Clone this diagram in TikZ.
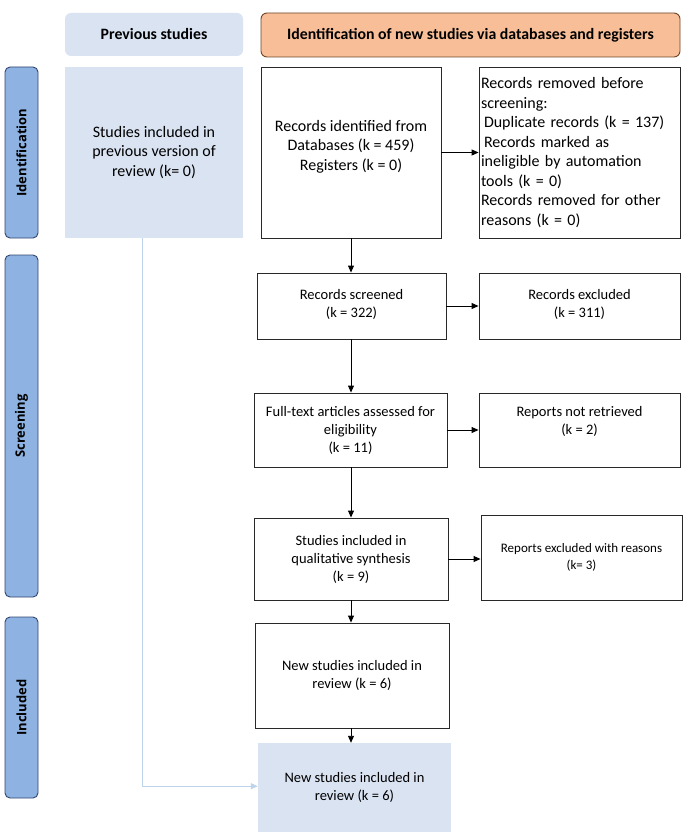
\documentclass[tikz,border=0pt]{standalone}
\usepackage{fontspec}
\setmainfont{Carlito}
\newfontfamily\sidefont{Open Sans}
\usetikzlibrary{arrows.meta,calc}
\definecolor{lblue}{RGB}{218,227,242}
\definecolor{hdorange}{RGB}{247,190,152}
\definecolor{hdborder}{RGB}{110,70,40}
\definecolor{sidefill}{RGB}{142,178,226}
\definecolor{sideborder}{RGB}{50,70,110}
\definecolor{boxline}{RGB}{40,40,40}
\definecolor{bline}{RGB}{190,212,235}
\tikzset{
  box/.style={draw=boxline, line width=0.9pt, fill=white, align=center, inner sep=2pt},
  bluebox/.style={fill=lblue, align=center, inner sep=2pt},
  hdr/.style={rounded corners=6pt, align=center, font={\fontsize{15.8}{19}\selectfont\bfseries}},
  sidelab/.style={draw=sideborder, line width=0.9pt, fill=sidefill, rounded corners=5pt, rotate=90, font={\sidefont\fontsize{13}{15}\selectfont\bfseries}},
  fbig/.style={font={\fontsize{16}{19.5}\selectfont}},
  fmid/.style={font={\fontsize{14.5}{18}\selectfont}},
  fsmall/.style={font={\fontsize{13}{17}\selectfont}},
  arr/.style={-{Triangle[length=7pt,width=6pt]}, line width=0.9pt, draw=black},
  barr/.style={-{Triangle[length=7pt,width=6pt]}, line width=1pt, draw=bline},
}
\begin{document}
\begin{tikzpicture}[x=1pt,y=-1pt]
\useasboundingbox (0,0) rectangle (687,840);
% headers
\node[hdr, fill=lblue, minimum width=178pt, minimum height=43pt] (hprev) at (154,34.5) {Previous studies};
\node[hdr, fill=hdorange, draw=hdborder, line width=0.9pt, minimum width=419pt, minimum height=44pt] (hnew) at (470.5,35) {Identification of new studies via databases and registers};
% side labels
\node[sidelab, minimum width=171pt, minimum height=33pt] (sid) at (21.5,152.5) {Identification};
\node[sidelab, minimum width=342pt, minimum height=33pt] (sscr) at (21.5,426) {Screening};
\node[sidelab, minimum width=181pt, minimum height=33pt] (sinc) at (21.5,707.5) {Included};
% previous studies
\node[bluebox, fbig, minimum width=178pt, minimum height=171pt] (prev) at (154,152.5) {Studies included in\\previous version of\\review (k= 0)};
% identification
\node[box, fbig, minimum width=180pt, minimum height=171pt] (ident) at (351,152.5) {Records identified from\\Databases (k = 459)\\Registers (k = 0)\\[-5pt]\mbox{}};
\node[box, fbig, minimum width=201pt, minimum height=171pt, align=left, text width=197pt] (rem) at (579.5,152.5) {Records removed before\\screening:\\\hspace{3pt}Duplicate records (k = 137)\\\hspace{3pt}Records marked as\\ineligible by automation\\tools (k = 0)\\Records removed for other\\reasons (k = 0)};
% screening
\node[box, fmid, minimum width=189pt, minimum height=66pt] (scr) at (351.5,306) {Records screened\\(k = 322)\\[-12pt]\mbox{}};
\node[box, fmid, minimum width=201pt, minimum height=66pt] (excl) at (579.5,306) {Records excluded\\(k = 311)\\[-12pt]\mbox{}};
\node[box, fmid, minimum width=193pt, minimum height=74pt] (full) at (350.5,430) {Full-text articles assessed for\\eligibility\\(k = 11)};
\node[box, fmid, minimum width=201pt, minimum height=74pt] (notr) at (579.5,430) {Reports not retrieved\\(k = 2)\\[2pt]\mbox{}};
\node[box, fmid, minimum width=194pt, minimum height=82pt] (qual) at (351,559) {Studies included in\\qualitative synthesis\\(k = 9)};
\node[box, fsmall, minimum width=201pt, minimum height=85pt] (rexc) at (581.5,557.5) {Reports excluded with reasons\\(k= 3)};
% included
\node[box, fmid, minimum width=194pt, minimum height=105pt] (new1) at (352,675.5) {New studies included in\\review (k = 6)};
\node[bluebox, fmid, minimum width=193pt, minimum height=89pt] (new2) at (354.5,787.5) {New studies included in\\review (k = 6)};
% connectors
\draw[arr] (ident.east) -- (rem.west);
\draw[arr] (scr.east) -- (excl.west);
\draw[arr] (full.east) -- (notr.west);
\draw[arr] (qual.east) -- (qual.east -| rexc.west);
\draw[arr] (ident.south) -- (ident.south |- scr.north);
\draw[arr] (ident.south |- scr.south) -- (ident.south |- full.north);
\draw[arr] (ident.south |- full.south) -- (ident.south |- qual.north);
\draw[arr] (ident.south |- qual.south) -- (ident.south |- new1.north);
\draw[arr] (ident.south |- new1.south) -- (ident.south |- new2.north);
\coordinate (bstart) at ($(prev.south west)+(78,0)$);
\coordinate (bcorner) at ($(bstart)+(0,548)$);
\draw[barr] (bstart) -- (bcorner) -- (bcorner -| new2.west);
\end{tikzpicture}
\end{document}
